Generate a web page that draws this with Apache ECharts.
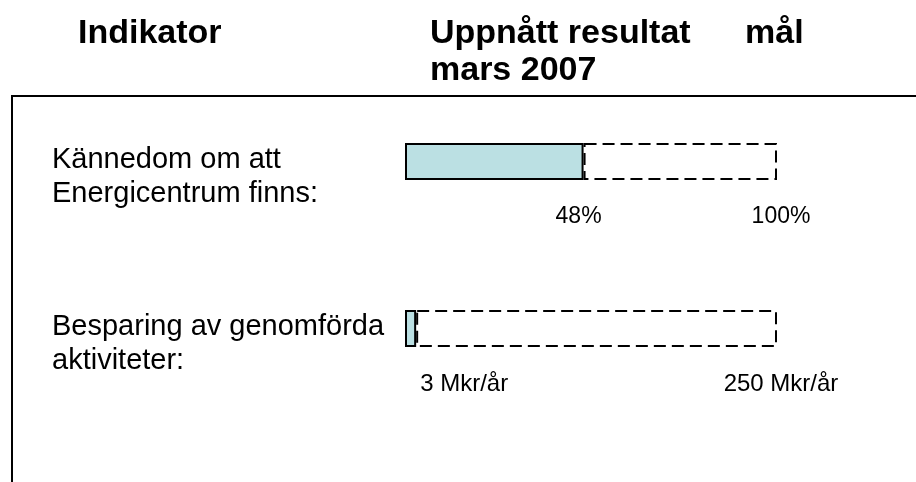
<!DOCTYPE html>
<html>
<head>
<meta charset="utf-8">
<script src="https://cdn.jsdelivr.net/npm/echarts@6/dist/echarts.min.js"></script>
<style>
html,body{margin:0;padding:0;background:#fff;}
#chart{width:916px;height:482px;}
</style>
</head>
<body>
<div id="chart"></div>
<script>
// Data
const indicators = ['Kännedom om att\nEnergicentrum finns:', 'Besparing av genomförda\naktiviteter:'];
const achievedPct = [48, 3];        // share of goal reached (as drawn)
const goalPct = [100, 100];
const achievedLabels = ['48%', '3 Mkr/år'];
const goalLabels = ['100%', '250 Mkr/år'];
const headerIndicator = 'Indikator';
const headerResult = ['Uppnått resultat', 'mars 2007'];
const headerGoal = 'mål';

const FONT = "'Liberation Sans', Arial, sans-serif";
const remaining = goalPct.map((g, i) => g - achievedPct[i]);
const labelSizes = [23, 24];

const chart = echarts.init(document.getElementById('chart'), null, { renderer: 'canvas' });
chart.setOption({
  backgroundColor: '#ffffff',
  animation: false,
  grid: { left: 405, width: 372, top: 78, height: 334, containLabel: false },
  xAxis: { type: 'value', min: 0, max: 100, show: false },
  yAxis: {
    type: 'category', inverse: true, data: indicators,
    axisLine: { show: false }, axisTick: { show: false }, splitLine: { show: false },
    axisLabel: { show: false }
  },
  series: [
    {
      type: 'bar', stack: 'a', barWidth: 37,
      itemStyle: { color: '#bbe0e3', borderColor: '#000', borderWidth: 2 },
      data: achievedPct.map((v, i) => ({
        value: v,
        label: {
          show: true, formatter: achievedLabels[i], position: ['100%', '100%'],
          offset: i === 0 ? [-5, 37] : [4, 37], align: i === 0 ? 'center' : 'left',
          verticalAlign: 'middle', fontSize: labelSizes[i], color: '#000', fontFamily: FONT
        }
      }))
    },
    {
      type: 'bar', stack: 'a', barWidth: 37,
      itemStyle: { color: 'rgba(0,0,0,0)', borderColor: '#000', borderWidth: 2, borderType: [12, 6] },
      data: remaining.map((v, i) => ({
        value: v,
        label: {
          show: true, formatter: goalLabels[i], position: ['100%', '100%'],
          offset: [4, 37], align: 'center',
          verticalAlign: 'middle', fontSize: labelSizes[i], color: '#000', fontFamily: FONT
        }
      }))
    }
  ]
});

// Text placed relative to the category scale
const graphics = [
  { type: 'polyline', shape: { points: [[12, 482], [12, 96], [916, 96]] }, style: { stroke: '#000', lineWidth: 2, fill: null } },
  { type: 'text', x: 78, y: 34, style: { text: headerIndicator, font: 'bold 34px ' + FONT, fill: '#000', verticalAlign: 'middle' } },
  { type: 'text', x: 430, y: 34, style: { text: headerResult[0], font: 'bold 34px ' + FONT, fill: '#000', verticalAlign: 'middle' } },
  { type: 'text', x: 430, y: 71, style: { text: headerResult[1], font: 'bold 34px ' + FONT, fill: '#000', verticalAlign: 'middle' } },
  { type: 'text', x: 745, y: 34, style: { text: headerGoal, font: 'bold 34px ' + FONT, fill: '#000', verticalAlign: 'middle' } }
];
indicators.forEach((name, i) => {
  const cy = chart.convertToPixel({ yAxisIndex: 0 }, name);
  graphics.push({
    type: 'text', x: 52, y: cy + 15.5,
    style: { text: name, font: '29px ' + FONT, fill: '#000', lineHeight: 34, verticalAlign: 'middle' }
  });
});
chart.setOption({ graphic: graphics });
</script>
</body>
</html>
